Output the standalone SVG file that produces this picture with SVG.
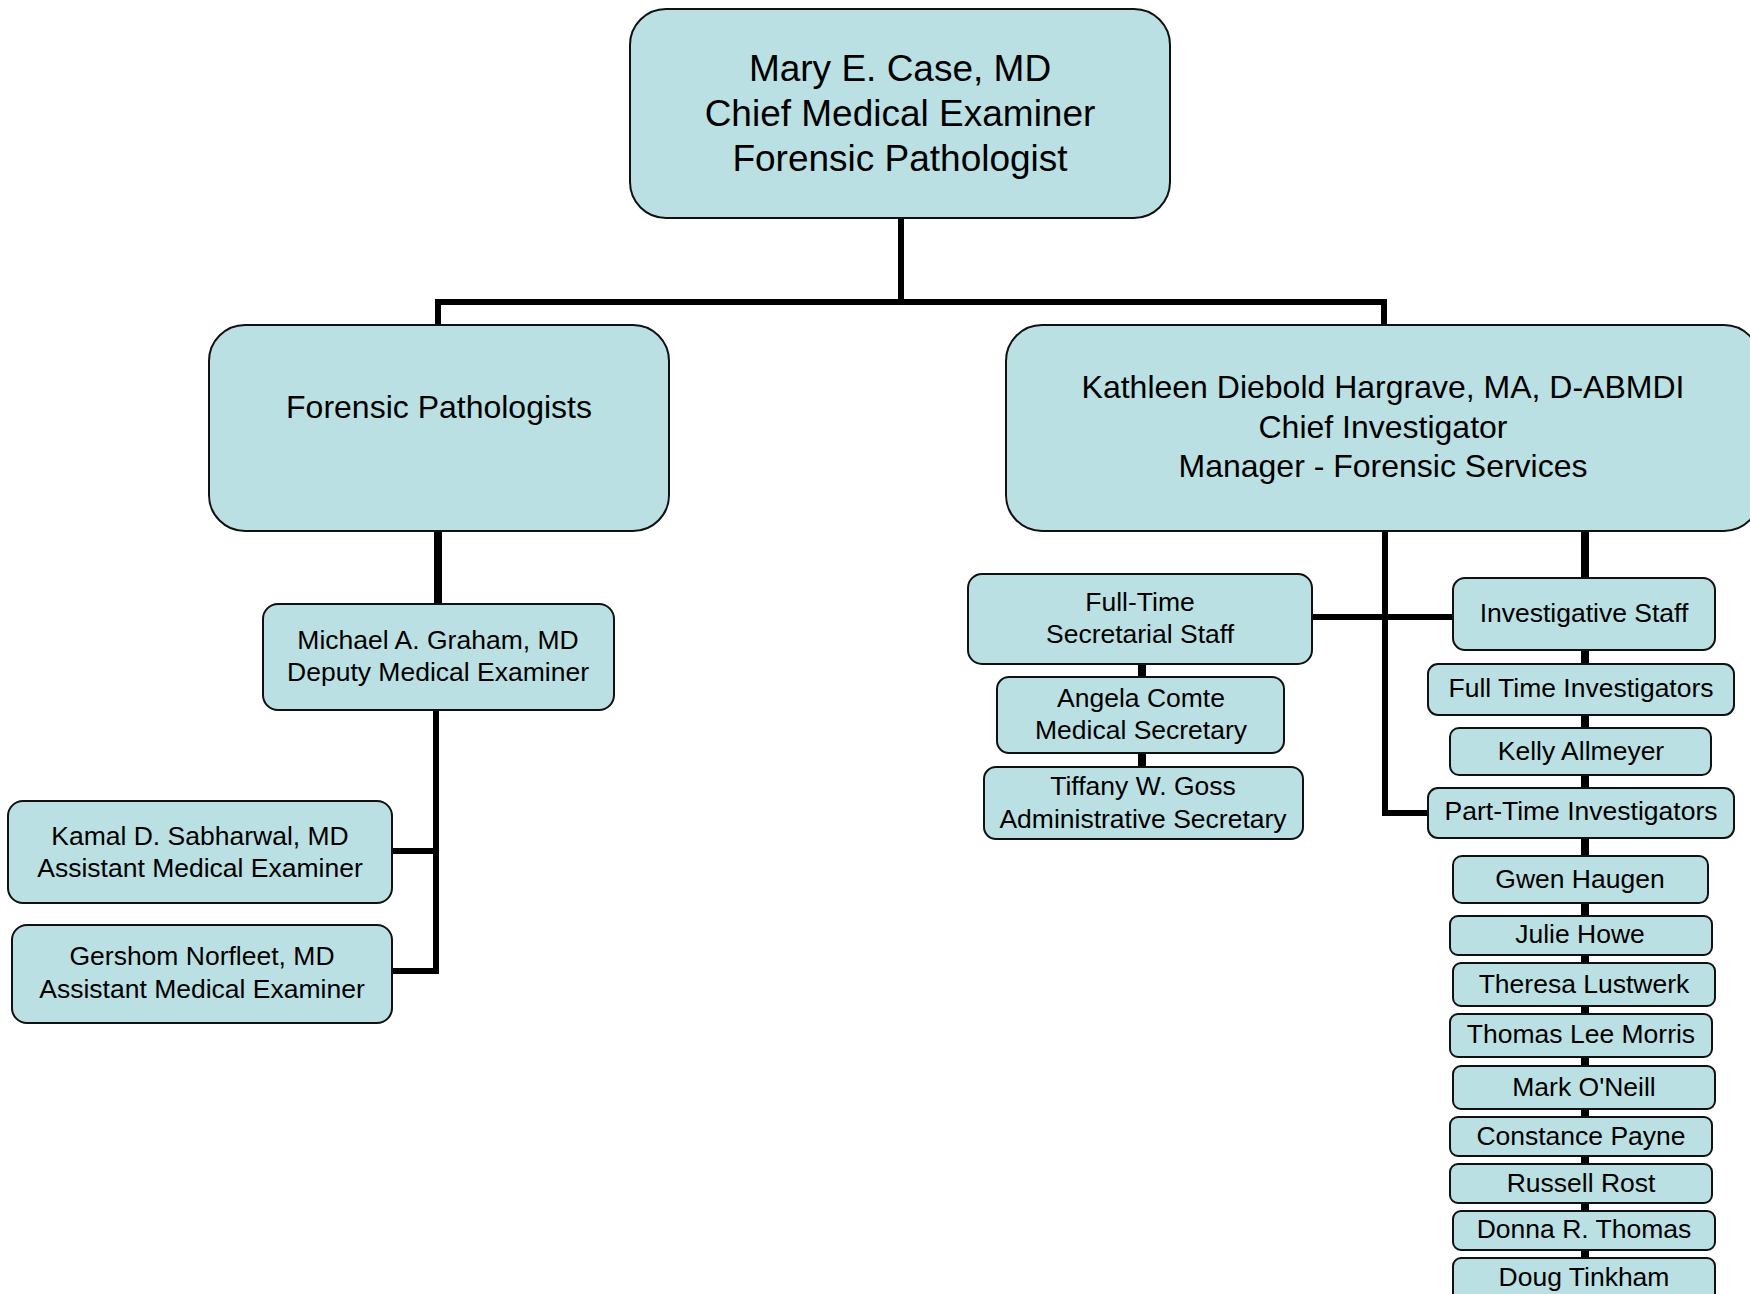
<svg xmlns="http://www.w3.org/2000/svg" width="1750" height="1294" viewBox="0 0 1750 1294">
<style>
.box{fill:#BAE0E3;stroke:#111;stroke-width:2}
.c{stroke:#000;stroke-width:6;fill:none;stroke-linecap:butt}
.ct{stroke:#000;stroke-width:8;fill:none}
text{font-family:"Liberation Sans",Arial,sans-serif;fill:#000;text-anchor:middle}
.big{font-size:37px}
.mid{font-size:32px}
.sm{font-size:26.5px}
</style>
<rect width="1750" height="1294" fill="#fff"/>
<g id="connectors">
<path class="c" d="M901 218V302M435 302H1387M438 302V326M1384 302V326"/>
<path class="ct" d="M438 531V605"/>
<path class="c" d="M436 710V974M392 851H436M392 971H439"/>
<path class="c" d="M1385 531V813H1429M1312 617H1454"/>
<path class="ct" d="M1585 531V1294"/>
<path class="ct" d="M1142 664V768"/>
</g>
<g id="n-case"><rect class="box" x="630" y="9" width="540" height="209" rx="36"/><text class="big" x="900" y="81">Mary E. Case, MD</text><text class="big" x="900" y="126">Chief Medical Examiner</text><text class="big" x="900" y="171">Forensic Pathologist</text></g>
<g id="n-fp"><rect class="box" x="209" y="325" width="460" height="206" rx="36"/><text class="mid" x="439" y="418">Forensic Pathologists</text></g>
<g id="n-kdh"><rect class="box" x="1006" y="325" width="754" height="206" rx="36"/><text class="mid" x="1383" y="398">Kathleen Diebold Hargrave, MA, D-ABMDI</text><text class="mid" x="1383" y="438">Chief Investigator</text><text class="mid" x="1383" y="477">Manager - Forensic Services</text></g>
<g id="n-graham"><rect class="box" x="263" y="604" width="351" height="106" rx="15"/><text class="sm" x="438" y="649">Michael A. Graham, MD</text><text class="sm" x="438" y="681">Deputy Medical Examiner</text></g>
<g id="n-sabharwal"><rect class="box" x="8" y="801" width="384" height="102" rx="15"/><text class="sm" x="200" y="845">Kamal D. Sabharwal, MD</text><text class="sm" x="200" y="877">Assistant Medical Examiner</text></g>
<g id="n-norfleet"><rect class="box" x="12" y="925" width="380" height="98" rx="15"/><text class="sm" x="202" y="965">Gershom Norfleet, MD</text><text class="sm" x="202" y="998">Assistant Medical Examiner</text></g>
<g id="n-secstaff"><rect class="box" x="968" y="574" width="344" height="90" rx="14"/><text class="sm" x="1140" y="611">Full-Time</text><text class="sm" x="1140" y="643">Secretarial Staff</text></g>
<g id="n-comte"><rect class="box" x="997" y="677" width="287" height="76" rx="12"/><text class="sm" x="1141" y="707">Angela Comte</text><text class="sm" x="1141" y="739">Medical Secretary</text></g>
<g id="n-goss"><rect class="box" x="984" y="767" width="319" height="72" rx="12"/><text class="sm" x="1143" y="795">Tiffany W. Goss</text><text class="sm" x="1143" y="828">Administrative Secretary</text></g>
<g id="n-invstaff"><rect class="box" x="1453" y="578" width="262" height="72" rx="12"/><text class="sm" x="1584" y="622">Investigative Staff</text></g>
<g id="n-fti"><rect class="box" x="1428" y="664" width="306" height="51" rx="10"/><text class="sm" x="1581" y="697">Full Time Investigators</text></g>
<g id="n-allmeyer"><rect class="box" x="1450" y="728" width="261" height="47" rx="9"/><text class="sm" x="1581" y="760">Kelly Allmeyer</text></g>
<g id="n-pti"><rect class="box" x="1428" y="788" width="306" height="50" rx="10"/><text class="sm" x="1581" y="820">Part-Time Investigators</text></g>
<g id="n-haugen"><rect class="box" x="1453" y="856" width="255" height="47" rx="9"/><text class="sm" x="1580" y="888">Gwen Haugen</text></g>
<g id="n-howe"><rect class="box" x="1450" y="916" width="262" height="39" rx="8"/><text class="sm" x="1580" y="943">Julie Howe</text></g>
<g id="n-lustwerk"><rect class="box" x="1453" y="963" width="262" height="43" rx="8"/><text class="sm" x="1584" y="993">Theresa Lustwerk</text></g>
<g id="n-morris"><rect class="box" x="1450" y="1014" width="262" height="43" rx="8"/><text class="sm" x="1581" y="1043">Thomas Lee Morris</text></g>
<g id="n-oneill"><rect class="box" x="1453" y="1066" width="262" height="43" rx="8"/><text class="sm" x="1584" y="1096">Mark O'Neill</text></g>
<g id="n-payne"><rect class="box" x="1450" y="1117" width="262" height="39" rx="8"/><text class="sm" x="1581" y="1145">Constance Payne</text></g>
<g id="n-rost"><rect class="box" x="1450" y="1164" width="262" height="39" rx="8"/><text class="sm" x="1581" y="1192">Russell Rost</text></g>
<g id="n-thomas"><rect class="box" x="1453" y="1211" width="262" height="39" rx="8"/><text class="sm" x="1584" y="1238">Donna R. Thomas</text></g>
<g id="n-tinkham"><rect class="box" x="1453" y="1258" width="262" height="50" rx="8"/><text class="sm" x="1584" y="1286">Doug Tinkham</text></g>
</svg>
